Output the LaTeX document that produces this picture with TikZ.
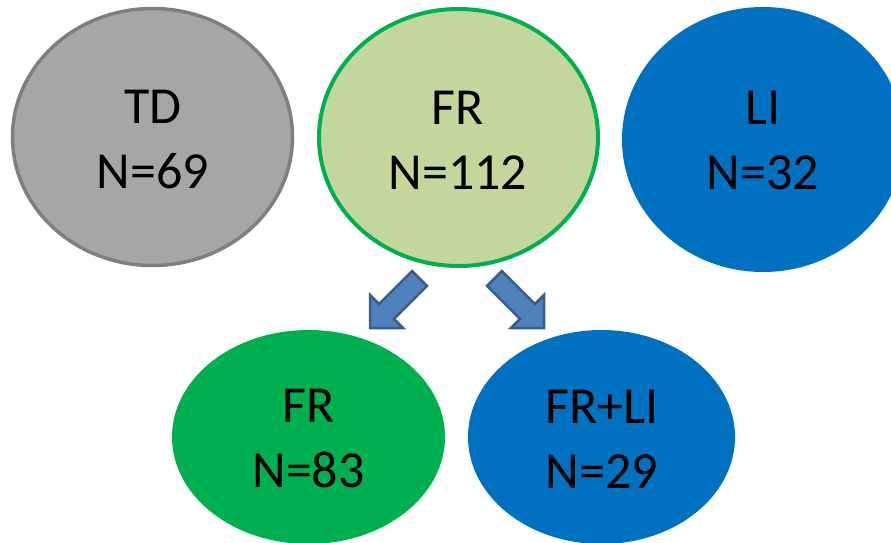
\documentclass[tikz,border=0pt]{standalone}
\usepackage{fontspec}
\setmainfont{Carlito}
\usetikzlibrary{shapes.geometric}
\definecolor{tdfill}{HTML}{A6A6A6}
\definecolor{tdline}{HTML}{7F7F7F}
\definecolor{frlight}{HTML}{C3D69B}
\definecolor{frgreen}{HTML}{00B050}
\definecolor{liblue}{HTML}{0070C0}
\definecolor{arrfill}{HTML}{4F81BD}
\definecolor{arrline}{HTML}{385D8A}
\begin{document}
\begin{tikzpicture}[x=1pt,y=-1pt,
  blob/.style={ellipse, inner sep=0pt, outer sep=0pt},
  lbl/.style={align=center, inner sep=0pt, font=\fontsize{52}{65}\selectfont, text=black},
  blockarrow/.style={fill=arrfill, draw=arrline, line width=2.5pt, line join=miter}]
\useasboundingbox (0,0) rectangle (891,543);
% top row
\node[blob, fill=tdfill, draw=tdline, line width=3.5pt, minimum width=280pt, minimum height=257pt] (td) at (152.5,137) {};
\node[blob, fill=frlight, draw=frgreen, line width=4pt, minimum width=279pt, minimum height=257pt] (frtop) at (458.5,137.5) {};
\node[blob, fill=liblue, minimum width=282pt, minimum height=265pt] (li) at (763,139.5) {};
% bottom row
\node[blob, fill=frgreen, minimum width=273pt, minimum height=214pt] (frbot) at (308.5,437) {};
\node[blob, fill=liblue, minimum width=267pt, minimum height=214pt] (frli) at (601.5,437) {};
% labels
\node[lbl] (tdt) at (153,140) {TD\\N=69};
\node[lbl] (frtopt) at (458,140) {FR\\N=112};
\node[lbl] (lit) at (763,140) {LI\\N=32};
\node[lbl] (frbott) at (308.5,439) {FR\\N=83};
\node[lbl] (frlit) at (602,439) {FR+LI\\N=29};
% block arrows
\draw[blockarrow] (412.1,271.1) -- (426.9,285.9) -- (393.9,318.9) -- (403,328) -- (370,328) -- (370,295) -- (379.1,304.1) -- cycle;
\draw[blockarrow] (501.9,271.1) -- (487.1,285.9) -- (520.1,318.9) -- (511,328) -- (544,328) -- (544,295) -- (534.9,304.1) -- cycle;
\end{tikzpicture}
\end{document}
